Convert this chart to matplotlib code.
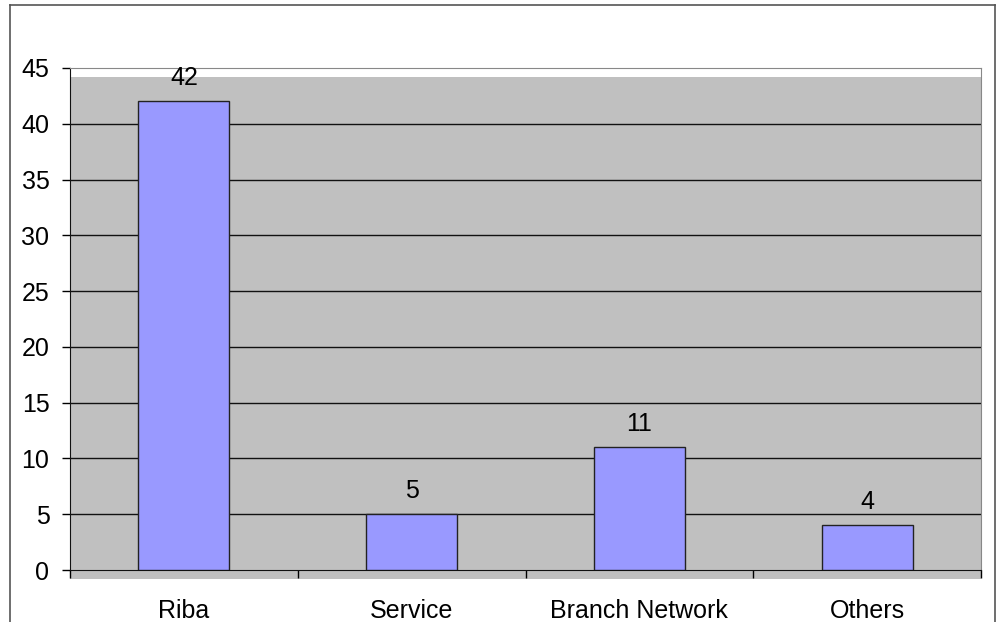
import matplotlib
matplotlib.use("Agg")
import matplotlib.pyplot as plt
from matplotlib.patches import Rectangle
import numpy as np

categories = ["Riba", "Service", "Branch Network", "Others"]
values = [42, 5, 11, 4]
yticks = [0, 5, 10, 15, 20, 25, 30, 35, 40, 45]

plt.rcParams['font.family'] = ['Liberation Sans', 'DejaVu Sans']

W, H = 997, 622
fig = plt.figure(figsize=(W / 100, H / 100), dpi=100)

# outer chart border (top, left, right)
fig.add_artist(plt.Line2D([10 / W, 10 / W], [0, 1 - 5 / H], color="#555555", lw=1.2))
fig.add_artist(plt.Line2D([10 / W, 995 / W], [1 - 5 / H, 1 - 5 / H], color="#555555", lw=1.2))
fig.add_artist(plt.Line2D([995 / W, 995 / W], [0, 1 - 5 / H], color="#555555", lw=1.2))

left, right, top, bottom = 70, 981, 68, 570
ax = fig.add_axes([left / W, 1 - bottom / H, (right - left) / W, (bottom - top) / H])
ax.set_facecolor("none")

# gray plot area, shifted down a little like the original
shift = 9 / (bottom - top)
ax.add_patch(Rectangle((0, -shift), 1, 1, transform=ax.transAxes,
                       facecolor="#c0c0c0", edgecolor="none", zorder=0, clip_on=False))

x = np.arange(len(categories))
ax.bar(x, values, width=0.4, color="#9999ff", edgecolor="#222222", linewidth=1, zorder=3)

fs = 18
for xi, v in zip(x, values):
    ax.annotate(str(v), (xi, v), xytext=(0, 8), textcoords="offset points",
                ha="center", va="bottom", fontsize=fs, zorder=4)

ax.set_xlim(-0.5, len(categories) - 0.5)
ax.set_ylim(0, 45)
ax.set_yticks(yticks)
ax.tick_params(axis="y", labelsize=fs, length=5.8, width=1, direction="out", pad=9)
for y in yticks[1:-1]:
    ax.axhline(y, color="#111111", lw=1, zorder=1)

# category boundary ticks
ax.set_xticks(np.arange(len(categories) + 1) - 0.5)
ax.set_xticklabels([])
ax.tick_params(axis="x", length=5.8, width=1, direction="out")
ax.set_xticks(x, minor=True)
ax.set_xticklabels(categories, minor=True, fontsize=fs)
ax.tick_params(axis="x", which="minor", length=0, pad=21)

ax.spines["left"].set_color("#111111")
ax.spines["bottom"].set_color("#111111")
ax.spines["top"].set_color("#888888")
ax.spines["right"].set_color("#888888")

fig.savefig("out.png", dpi=100)
